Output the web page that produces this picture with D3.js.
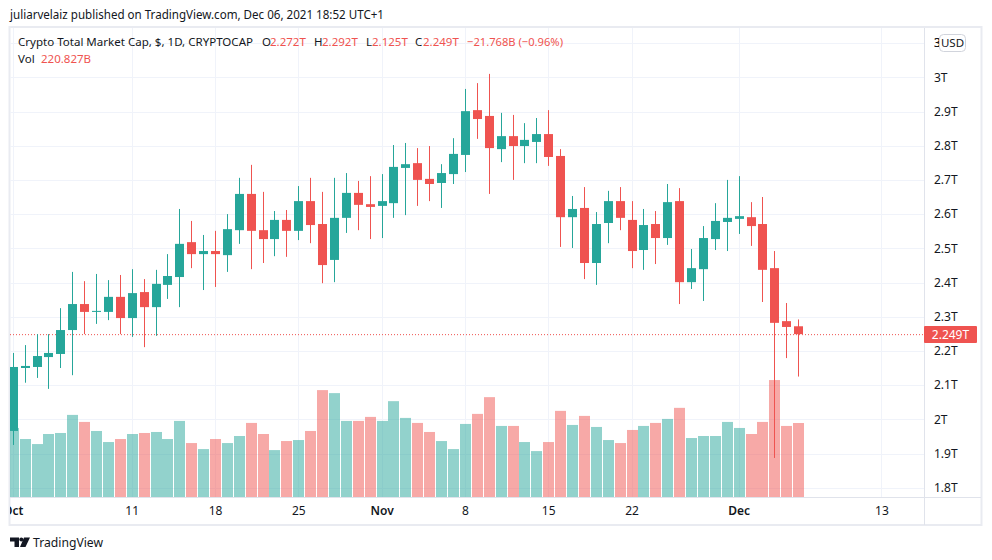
<!DOCTYPE html>
<html>
<head>
<meta charset="utf-8">
<script src="https://cdnjs.cloudflare.com/ajax/libs/d3/7.8.5/d3.min.js"></script>
<style>
  html, body { margin: 0; padding: 0; background: #fff; }
  svg { display: block; }
  text { font-family: "Noto Sans", sans-serif; font-size: 12px; fill: #131722; }
</style>
</head>
<body>
<div id="chart"></div>
<script>
const FRAME_WIDTH = 992;
const FRAME_HEIGHT = 560;
const PANE = { left: 10, right: 924, top: 28, bottom: 497 };

const UP = "#26a69a";
const DOWN = "#ef5350";
const GRID = "#f0f3fa";
const BORDER = "#e0e3eb";

// open, high, low, close (T), volume (B), one row per day from Oct 1 2021
const ROWS = [
  [1.966, 2.194, 1.925, 2.153, 206], [2.150, 2.217, 2.107, 2.156, 173], [2.153, 2.249, 2.121, 2.185, 158],
  [2.182, 2.249, 2.089, 2.194, 188], [2.191, 2.325, 2.150, 2.261, 191], [2.261, 2.431, 2.129, 2.337, 245],
  [2.337, 2.404, 2.249, 2.314, 224], [2.314, 2.425, 2.279, 2.317, 197], [2.314, 2.407, 2.290, 2.358, 164],
  [2.358, 2.422, 2.249, 2.296, 173], [2.296, 2.439, 2.241, 2.369, 188], [2.372, 2.410, 2.211, 2.328, 191],
  [2.328, 2.437, 2.244, 2.396, 194], [2.393, 2.483, 2.352, 2.419, 173], [2.416, 2.615, 2.328, 2.513, 227],
  [2.518, 2.580, 2.442, 2.483, 161], [2.483, 2.539, 2.378, 2.492, 143], [2.492, 2.551, 2.387, 2.483, 173],
  [2.480, 2.600, 2.431, 2.556, 161], [2.553, 2.706, 2.513, 2.659, 182], [2.659, 2.744, 2.439, 2.551, 221],
  [2.553, 2.665, 2.457, 2.527, 188], [2.527, 2.609, 2.477, 2.583, 140], [2.583, 2.612, 2.475, 2.551, 167],
  [2.551, 2.682, 2.524, 2.638, 170], [2.638, 2.706, 2.515, 2.568, 197], [2.571, 2.665, 2.398, 2.451, 319],
  [2.466, 2.706, 2.401, 2.589, 310], [2.589, 2.720, 2.545, 2.662, 227], [2.662, 2.697, 2.553, 2.627, 227],
  [2.629, 2.711, 2.527, 2.621, 239], [2.624, 2.717, 2.530, 2.638, 227], [2.632, 2.802, 2.589, 2.738, 286],
  [2.735, 2.808, 2.597, 2.746, 236], [2.749, 2.793, 2.624, 2.700, 221], [2.703, 2.799, 2.638, 2.688, 194],
  [2.691, 2.746, 2.618, 2.720, 167], [2.717, 2.822, 2.688, 2.776, 143], [2.773, 2.966, 2.723, 2.901, 218],
  [2.904, 2.983, 2.820, 2.878, 248], [2.887, 3.010, 2.659, 2.793, 298], [2.790, 2.896, 2.752, 2.828, 212],
  [2.828, 2.890, 2.700, 2.799, 212], [2.799, 2.866, 2.749, 2.817, 164], [2.811, 2.881, 2.749, 2.834, 137],
  [2.834, 2.904, 2.741, 2.767, 164], [2.770, 2.790, 2.504, 2.591, 257], [2.591, 2.653, 2.501, 2.615, 215],
  [2.618, 2.679, 2.410, 2.457, 242], [2.457, 2.606, 2.393, 2.571, 209], [2.574, 2.668, 2.515, 2.638, 170],
  [2.638, 2.679, 2.553, 2.589, 161], [2.583, 2.638, 2.442, 2.492, 200], [2.495, 2.615, 2.437, 2.568, 212],
  [2.571, 2.609, 2.454, 2.530, 221], [2.530, 2.688, 2.510, 2.635, 233], [2.638, 2.676, 2.337, 2.401, 266],
  [2.401, 2.498, 2.381, 2.442, 176], [2.439, 2.565, 2.346, 2.530, 182], [2.527, 2.632, 2.495, 2.580, 182],
  [2.577, 2.700, 2.492, 2.589, 224], [2.586, 2.711, 2.542, 2.594, 206], [2.591, 2.635, 2.507, 2.565, 188],
  [2.571, 2.650, 2.343, 2.437, 224], [2.442, 2.492, 1.887, 2.282, 349], [2.287, 2.340, 2.179, 2.270, 212],
  [2.272, 2.292, 2.125, 2.249, 220.827]
];

const DAYS = ROWS.map((r, i) => ({
  date: new Date(Date.UTC(2021, 9, 1 + i)),
  open: r[0], high: r[1], low: r[2], close: r[3], volume: r[4]
}));
const LAST_CLOSE = 2.249;

const X_SCALE = d3.scaleUtc()
  .domain([new Date(Date.UTC(2021, 9, 1)), new Date(Date.UTC(2021, 11, 13))])
  .range([12.7, 881.4]);
const Y_SCALE = d3.scaleLinear().domain([1.8, 3]).range([487.7, 77.3]);
const VOL_SCALE = d3.scaleLinear().domain([0, 220.827]).range([497, 423]);

const X_TICKS = [[9, 1], [9, 11], [9, 18], [9, 25], [10, 1], [10, 8], [10, 15], [10, 22], [11, 1], [11, 13]]
  .map((d) => new Date(Date.UTC(2021, d[0], d[1])));
const Y_TICKS = d3.range(18, 32).map((d) => d / 10);

const px = (d) => Math.round(X_SCALE(d));

const FRAME = d3.select("#chart").append("svg")
  .attr("width", FRAME_WIDTH)
  .attr("height", FRAME_HEIGHT);

FRAME.append("defs").append("clipPath").attr("id", "pane").append("rect")
  .attr("x", PANE.left).attr("y", PANE.top)
  .attr("width", PANE.right - PANE.left).attr("height", PANE.bottom - PANE.top);

FRAME.append("text").attr("x", 10).attr("y", 19)
  .attr("textLength", 374).attr("lengthAdjust", "spacingAndGlyphs")
  .text("juliarvelaiz published on TradingView.com, Dec 06, 2021 18:52 UTC+1");

// outer frame
FRAME.append("rect")
  .attr("x", 9.5).attr("y", 27).attr("width", 972).attr("height", 498)
  .attr("fill", "none").attr("stroke", BORDER).attr("stroke-width", 2).attr("opacity", 0.7);

const PLOT = FRAME.append("g").attr("clip-path", "url(#pane)");

// grid
PLOT.selectAll(".hgrid").data(Y_TICKS).enter().append("rect")
  .attr("x", PANE.left).attr("width", PANE.right - PANE.left)
  .attr("y", (d) => Math.round(Y_SCALE(d))).attr("height", 1).attr("fill", GRID);
PLOT.selectAll(".vgrid").data(X_TICKS).enter().append("rect")
  .attr("y", PANE.top).attr("height", PANE.bottom - PANE.top)
  .attr("x", (d) => px(d)).attr("width", 1).attr("fill", GRID);

// volume bars sit under the candles
PLOT.selectAll(".vol").data(DAYS).enter().append("rect")
  .attr("x", (d) => px(d.date) - 5)
  .attr("width", 11)
  .attr("y", (d) => VOL_SCALE(d.volume))
  .attr("height", (d) => VOL_SCALE(0) - VOL_SCALE(d.volume))
  .attr("fill", (d) => d.close >= d.open ? UP : DOWN)
  .attr("opacity", 0.5);

// last price line
PLOT.append("line")
  .attr("x1", PANE.left).attr("x2", PANE.right)
  .attr("y1", Y_SCALE(LAST_CLOSE) + 0.5).attr("y2", Y_SCALE(LAST_CLOSE) + 0.5)
  .attr("stroke", DOWN).attr("stroke-dasharray", "1 2");

// wicks
PLOT.selectAll(".wick").data(DAYS).enter().append("rect")
  .attr("x", (d) => px(d.date))
  .attr("width", 1)
  .attr("y", (d) => Y_SCALE(d.high))
  .attr("height", (d) => Y_SCALE(d.low) - Y_SCALE(d.high))
  .attr("fill", (d) => d.close >= d.open ? UP : DOWN);

// bodies
PLOT.selectAll(".body").data(DAYS).enter().append("rect")
  .attr("x", (d) => px(d.date) - 4)
  .attr("width", 9)
  .attr("y", (d) => Y_SCALE(Math.max(d.open, d.close)))
  .attr("height", (d) => Math.max(1, Math.abs(Y_SCALE(d.open) - Y_SCALE(d.close))))
  .attr("fill", (d) => d.close >= d.open ? UP : DOWN);

// axis separators
FRAME.append("rect").attr("x", PANE.right).attr("y", 28).attr("width", 1).attr("height", 497).attr("fill", BORDER);
FRAME.append("rect").attr("x", 10).attr("y", PANE.bottom).attr("width", 971).attr("height", 1).attr("fill", BORDER);

// y axis, the top tick is cut to "3" by the USD button
const Y_AXIS = FRAME.append("g")
  .attr("transform", "translate(" + PANE.right + ",0)")
  .call(d3.axisRight(Y_SCALE).tickValues(Y_TICKS.concat([3.1])).tickSize(0).tickPadding(10)
    .tickFormat((d) => d === 3.1 ? "3" : (+d.toFixed(1)) + "T"));
Y_AXIS.select(".domain").remove();

// x axis, clipped so the Oct label is cut off like the original
const X_AXIS = FRAME.append("g")
  .attr("clip-path", "url(#xclip)")
  .attr("transform", "translate(0," + PANE.bottom + ")")
  .call(d3.axisBottom(X_SCALE).tickValues(X_TICKS).tickSize(0).tickPadding(9)
    .tickFormat((d) => d.getUTCDate() === 1 ? d3.utcFormat("%b")(d) : d.getUTCDate()));
X_AXIS.select(".domain").remove();
X_AXIS.selectAll("text")
  .style("font-weight", (d) => d.getUTCDate() === 1 ? 600 : 400);
FRAME.select("defs").append("clipPath").attr("id", "xclip").append("rect")
  .attr("x", 10).attr("y", 0).attr("width", 914).attr("height", 30);

// last price tag
FRAME.append("rect").attr("x", 924).attr("y", 326).attr("width", 53).attr("height", 17).attr("rx", 1).attr("fill", DOWN);
FRAME.append("text").attr("x", 950.5).attr("y", 339).attr("text-anchor", "middle")
  .style("fill", "#fff").text("2.249T");

// USD button
FRAME.append("rect").attr("x", 939.5).attr("y", 34.5).attr("width", 26).attr("height", 17).attr("rx", 4)
  .attr("fill", "#fff").attr("stroke", "#d1d4dc");
FRAME.append("text").attr("x", 952.5).attr("y", 47).attr("text-anchor", "middle")
  .style("font-size", "11.5px").text("USD");

// legend
const LEGEND = [
  [18, "Crypto Total Market Cap, $, 1D, CRYPTOCAP", "#131722", 235],
  [262, "O", "#131722"], [270, "2.272T", DOWN],
  [314, "H", "#131722"], [322, "2.292T", DOWN],
  [366, "L", "#131722"], [372, "2.125T", DOWN],
  [415, "C", "#131722"], [423, "2.249T", DOWN],
  [467, "\u221221.768B (\u22120.96%)", DOWN, 96]
];
FRAME.selectAll(".legend").data(LEGEND).enter().append("text")
  .attr("x", (d) => d[0]).attr("y", 46)
  .attr("textLength", (d) => d[3] || null)
  .attr("lengthAdjust", "spacingAndGlyphs")
  .style("font-size", "11.5px")
  .style("fill", (d) => d[2])
  .text((d) => d[1]);
FRAME.append("text").attr("x", 18).attr("y", 63).style("font-size", "11.5px").text("Vol");
FRAME.append("text").attr("x", 41).attr("y", 63).style("font-size", "11.5px").style("fill", DOWN).text("220.827B");

// TradingView mark
FRAME.append("path")
  .attr("d", "M10 537.5h9v9.5h-4.5v-5.5h-4.5z M24 537.5h6l-4.5 9.5h-5.5z")
  .attr("fill", "#131722");
FRAME.append("circle").attr("cx", 21.3).attr("cy", 539.5).attr("r", 2).attr("fill", "#131722");
FRAME.append("text").attr("x", 33).attr("y", 547)
  .attr("textLength", 70).attr("lengthAdjust", "spacingAndGlyphs")
  .style("font-size", "13px").text("TradingView");
</script>
</body>
</html>
